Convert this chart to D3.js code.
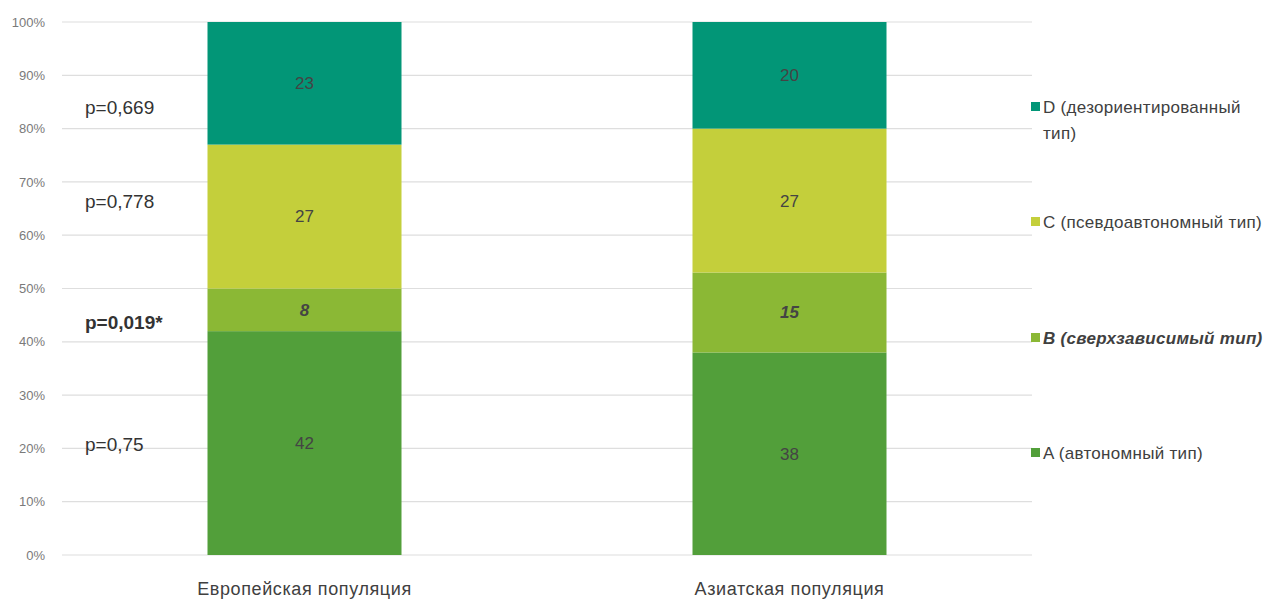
<!DOCTYPE html>
<html>
<head>
<meta charset="utf-8">
<script src="https://cdn.jsdelivr.net/npm/d3@7"></script>
<style>
  body { margin: 0; background: #fff; }
  svg { display: block; font-family: 'Liberation Sans', Arial, sans-serif; }
</style>
</head>
<body>
<svg id="chart"></svg>
<script>
const populations = ['Европейская популяция', 'Азиатская популяция']
const types = ['A', 'B', 'C', 'D']
const typeLabels = ['A (автономный тип)', 'B (сверхзависимый тип)', 'C (псевдоавтономный тип)', 'D (дезориентированный тип)']
const valuesA = [42, 38]
const valuesB = [8, 15]
const valuesC = [27, 27]
const valuesD = [23, 20]
const pValues = ['p=0,75', 'p=0,019*', 'p=0,778', 'p=0,669']
// where each p-value sits, in % of the y axis
const pAt = [20.8, 43.7, 66.4, 83.9]
const yTicks = [0, 10, 20, 30, 40, 50, 60, 70, 80, 90, 100]

const colors = { A: '#529f3a', B: '#8bb835', C: '#c4cf3b', D: '#029677' }

const w = 1265
const h = 600
const margin = { top: 22, right: 233, bottom: 45, left: 62 }

const svg = d3.select('#chart').attr('width', w).attr('height', h)

const x = d3
  .scaleBand()
  .domain(populations)
  .range([margin.left, w - margin.right])
  .paddingInner(0.6)
  .paddingOuter(0.3)

const y = d3
  .scaleLinear()
  .domain([0, 100])
  .range([h - margin.bottom, margin.top])

// gridlines
svg
  .append('g')
  .selectAll('line')
  .data(yTicks)
  .join('line')
  .attr('x1', margin.left)
  .attr('x2', w - margin.right)
  .attr('y1', (d) => y(d))
  .attr('y2', (d) => y(d))
  .attr('stroke', '#dedede')
  .attr('stroke-width', 1.2)

// y axis labels
const yAxis = svg
  .append('g')
  .attr('transform', `translate(${margin.left - 14},0)`)
  .call(d3.axisLeft(y).tickValues(yTicks).tickFormat((d) => d + '%').tickSize(0))
yAxis.select('.domain').remove()
yAxis
  .selectAll('text')
  .attr('fill', '#7a7a7a')
  .style('font-size', '13px')
  .style('font-family', "'Liberation Sans Narrow', 'Liberation Sans', sans-serif")

// stacked data
const rows = populations.map((p, i) => ({
  pop: p,
  A: valuesA[i],
  B: valuesB[i],
  C: valuesC[i],
  D: valuesD[i],
}))
const stacked = d3.stack().keys(types)(rows)

const layer = svg
  .append('g')
  .selectAll('g')
  .data(stacked)
  .join('g')
  .attr('fill', (d) => colors[d.key])

layer
  .selectAll('rect')
  .data((d) => d)
  .join('rect')
  .attr('x', (d) => x(d.data.pop))
  .attr('width', x.bandwidth())
  .attr('y', (d) => y(d[1]))
  .attr('height', (d) => y(d[0]) - y(d[1]))

// segment labels
layer
  .selectAll('text')
  .data((d) => d.map((s) => ({ s, key: d.key })))
  .join('text')
  .attr('x', (d) => x(d.s.data.pop) + x.bandwidth() / 2)
  .attr('y', (d) => y((d.s[0] + d.s[1]) / 2))
  .attr('dy', '0.35em')
  .attr('text-anchor', 'middle')
  .attr('fill', '#444')
  .style('font-size', '17px')
  .style('font-style', (d) => (d.key === 'B' ? 'italic' : 'normal'))
  .style('font-weight', (d) => (d.key === 'B' ? 'bold' : 'normal'))
  .text((d) => d.s[1] - d.s[0])

// category labels
svg
  .append('g')
  .selectAll('text')
  .data(populations)
  .join('text')
  .attr('x', (d) => x(d) + x.bandwidth() / 2)
  .attr('y', h - margin.bottom + 40)
  .attr('text-anchor', 'middle')
  .attr('fill', '#404040')
  .style('font-size', '18px')
  .style('letter-spacing', '0.6px')
  .text((d) => d)

// p-values
svg
  .append('g')
  .selectAll('text')
  .data(pValues)
  .join('text')
  .attr('x', 85)
  .attr('y', (d, i) => y(pAt[i]))
  .attr('dy', '0.35em')
  .attr('fill', '#333')
  .style('font-size', '19px')
  .style('font-weight', (d, i) => (i === 1 ? 'bold' : 'normal'))
  .text((d) => d)

// legend
const legend = svg
  .append('g')
  .selectAll('g')
  .data(stacked)
  .join('g')
  .attr('transform', (d, i) => {
    const mid = [453, 338, 222, 107][i]
    return `translate(1031,${mid})`
  })

legend
  .append('rect')
  .attr('x', 0)
  .attr('y', -5)
  .attr('width', 9)
  .attr('height', 9)
  .attr('fill', (d) => colors[d.key])

legend
  .append('text')
  .attr('x', 12)
  .attr('dy', '0.35em')
  .attr('fill', '#404040')
  .style('font-size', '17px')
  .style('letter-spacing', '0.3px')
  .style('font-style', (d) => (d.key === 'B' ? 'italic' : 'normal'))
  .style('font-weight', (d) => (d.key === 'B' ? 'bold' : 'normal'))
  .each(function (d, i) {
    const t = d3.select(this)
    if (d.key === 'D') {
      t.append('tspan').attr('x', 12).text('D (дезориентированный')
      t.append('tspan').attr('x', 12).attr('dy', '1.55em').text('тип)')
    } else {
      t.text(typeLabels[i])
    }
  })
</script>
</body>
</html>
